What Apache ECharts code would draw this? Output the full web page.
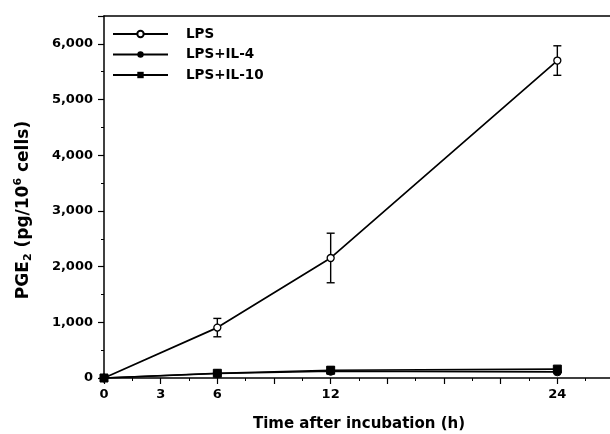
<!DOCTYPE html>
<html><head><meta charset="utf-8">
<script src="https://cdn.jsdelivr.net/npm/echarts@6/dist/echarts.min.js"></script>
<style>html,body{margin:0;padding:0;background:#fff}#c{width:610px;height:434px}</style>
</head><body><div id="c"></div>
<script>
const times = [0, 6, 12, 24];
const lpsMean = [0, 905, 2155, 5700];
const lpsErr = [0, 165, 445, 265];
const il4Mean = [0, 80, 120, 110];
const il4Err = [0, 0, 0, 0];
const il10Mean = [0, 85, 140, 160];
const il10Err = [0, 0, 60, 0];
const xLabels = {0:'0', 3:'3', 6:'6', 12:'12', 24:'24'};
const yTicks = [0, 1000, 2000, 3000, 4000, 5000, 6000];

const chart = echarts.init(document.getElementById('c'));
const font = 'DejaVu Sans';

function pts(m){ return times.map((t,i)=>[t,m[i]]); }
function errData(m,e){ return times.map((t,i)=>[t,m[i]-e[i],m[i]+e[i]]).filter((d,i)=>e[i]>0); }
function errSeries(m,e){
  return {
    type:'custom', silent:true, z:1,
    data: errData(m,e),
    renderItem:function(params, api){
      const x = api.value(0);
      const lo = api.coord([x, api.value(1)]);
      const hi = api.coord([x, api.value(2)]);
      const w = 4;
      const st = {stroke:'#000', lineWidth:1.4};
      return {type:'group', children:[
        {type:'line', shape:{x1:lo[0],y1:lo[1],x2:hi[0],y2:hi[1]}, style:st},
        {type:'line', shape:{x1:lo[0]-w,y1:lo[1],x2:lo[0]+w,y2:lo[1]}, style:st},
        {type:'line', shape:{x1:hi[0]-w,y1:hi[1],x2:hi[0]+w,y2:hi[1]}, style:st}
      ]};
    }
  };
}

chart.setOption({
  animation:false,
  backgroundColor:'#fff',
  grid:{left:104, top:16, right:-4, bottom:56, containLabel:false, outerBoundsMode:'none'},
  legend:{
    left:112, top:27, padding:0, orient:'vertical', itemWidth:55, itemHeight:8, itemGap:6.5,
    textStyle:{fontFamily:font, fontWeight:'bold', fontSize:13.5, color:'#000', padding:[0,0,0,13]},
    data:['LPS','LPS+IL-4','LPS+IL-10']
  },
  graphic:[{
    type:'text', x:24, y:210, rotation:Math.PI/2,
    style:{
      text:'{a|PGE}{s|2}{a| (pg/10}{p|6}{a| cells)}',
      align:'center', verticalAlign:'middle',
      rich:{
        a:{fontFamily:font, fontWeight:'bold', fontSize:17, fill:'#000', verticalAlign:'middle'},
        s:{fontFamily:font, fontWeight:'bold', fontSize:11, fill:'#000', padding:[9,0,0,0], verticalAlign:'middle'},
        p:{fontFamily:font, fontWeight:'bold', fontSize:11, fill:'#000', padding:[0,0,12,0], verticalAlign:'middle'}
      }
    }
  }],
  xAxis:[{
    type:'value', min:0, max:27, interval:3,
    axisLine:{lineStyle:{color:'#000', width:1.5}},
    axisTick:{show:true, inside:false, length:6, lineStyle:{color:'#000', width:1.2}},
    minorTick:{show:true, splitNumber:2, length:3, lineStyle:{color:'#000', width:1}},
    splitLine:{show:false},
    axisLabel:{fontFamily:font, fontWeight:'bold', fontSize:13, color:'#000', margin:10,
      formatter:function(v){ return xLabels[v]!==undefined ? xLabels[v] : ''; }},
    name:'Time after incubation (h)', nameLocation:'middle', nameGap:39,
    nameTextStyle:{fontFamily:font, fontWeight:'bold', fontSize:15, color:'#000'}
  },{
    type:'value', position:'top', min:0, max:27,
    axisLine:{show:true, lineStyle:{color:'#000', width:1.5}},
    axisTick:{show:false}, axisLabel:{show:false}, splitLine:{show:false}
  }],
  yAxis:{
    type:'value', min:0, max:6500, interval:1000,
    axisLine:{show:true, lineStyle:{color:'#000', width:1.5}},
    axisTick:{show:true, length:6, lineStyle:{color:'#000', width:1.2}},
    minorTick:{show:true, splitNumber:2, length:3, lineStyle:{color:'#000', width:1}},
    splitLine:{show:false},
    axisLabel:{fontFamily:font, fontWeight:'bold', fontSize:13, color:'#000', margin:11,
      formatter:function(v){ return yTicks.indexOf(v)>=0 ? v.toLocaleString('en-US') : ''; }}
  },
  series:[
    {name:'LPS', type:'line', data:pts(lpsMean), symbol:'circle', symbolSize:7, z:3,
      lineStyle:{color:'#000', width:1.7},
      itemStyle:{color:'#fff', borderColor:'#000', borderWidth:1.3}},
    {name:'LPS+IL-4', type:'line', data:pts(il4Mean), symbol:'circle', symbolSize:8, z:3,
      lineStyle:{color:'#000', width:1.6},
      itemStyle:{color:'#000', borderColor:'#000'}},
    {name:'LPS+IL-10', type:'line', data:pts(il10Mean), symbol:'rect', symbolSize:8, z:3,
      lineStyle:{color:'#000', width:1.6},
      itemStyle:{color:'#000', borderColor:'#000'}},
    errSeries(lpsMean, lpsErr),
    errSeries(il10Mean, il10Err)
  ]
});
</script></body></html>
